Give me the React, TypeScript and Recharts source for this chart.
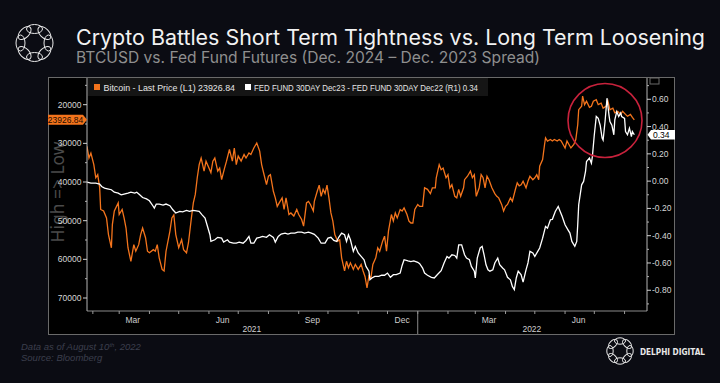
import React from "react";
import { LineChart, Line, XAxis, YAxis } from "recharts";

// days counted from 1 Jan 2021
const btcDays = [
  26, 28, 30, 33, 35, 37, 39, 40, 43, 46, 48, 51, 52, 54, 58, 59, 62, 64, 66, 68, 71, 74, 76, 79, 81, 83, 86, 88, 90, 94,
  96, 98, 100, 103, 105, 107, 111, 113, 115, 117, 120, 123, 125, 128, 130, 133, 135, 137, 139, 141, 143, 146, 148, 151,
  153, 155, 157, 160, 162, 164, 167, 169, 172, 175, 177, 179, 181, 184, 187, 189, 192, 194, 197, 200, 203, 205, 207, 210,
  212, 214, 217, 219, 221, 223, 226, 228, 230, 233, 235, 238, 241, 243, 246, 248, 251, 253, 255, 258, 259, 262, 264, 266,
  268, 270, 272, 274, 276, 278, 280, 283, 285, 287, 290, 292, 294, 296, 299, 301, 304, 307, 309, 311, 313, 315, 317, 319,
  322, 324, 326, 329, 331, 333, 335, 338, 340, 342, 344, 347, 349, 351, 354, 356, 358, 360, 362, 365, 367, 370, 372, 375,
  378, 380, 383, 384, 387, 389, 391, 394, 396, 398, 400, 403, 405, 407, 409, 412, 413, 416, 419, 421, 423, 425, 428, 430,
  432, 434, 436, 438, 441, 444, 446, 448, 451, 453, 455, 457, 460, 462, 465, 467, 469, 471, 473, 476, 478, 480, 483, 485,
  487, 489, 490, 493, 495, 496, 498, 501, 503, 505, 508, 510, 512, 514, 516, 518, 520, 522, 525, 527, 529, 530, 533, 534,
  536, 538, 541, 543, 545, 548, 550, 553, 555, 558, 560, 562, 565, 567, 570, 573, 575, 578, 580, 583, 585, 587,
];
const btcPrice = [
  30750, 33800, 32500, 35500, 38900, 38100, 41500, 47100, 47500, 49300, 53600, 57000, 51000, 47500, 45400, 48400, 47100,
  49300, 51900, 57000, 60500, 56200, 57900, 56200, 53600, 51900, 54400, 57900, 58300, 57500, 57900, 56200, 59600, 62600,
  63000, 57900, 52700, 49300, 48500, 53600, 57000, 54900, 57500, 58300, 55700, 49300, 45400, 43200, 38900, 35500, 33800,
  37200, 34600, 36400, 37600, 34600, 33800, 37200, 36400, 39400, 36400, 34600, 31600, 34600, 31200, 35500, 33300, 34600,
  32900, 33800, 32500, 32900, 31200, 29900, 32000, 35500, 37600, 40700, 38500, 38100, 42400, 44100, 46300, 45400, 44100,
  47100, 44100, 48400, 48000, 48800, 47100, 48400, 49700, 51400, 45400, 45000, 45800, 47500, 45000, 42400, 40800, 43700,
  41900, 43000, 40800, 44100, 48000, 50100, 53600, 55300, 54900, 59600, 63000, 60500, 62200, 60900, 62600, 61300, 62600,
  61300, 63000, 64500, 67400, 64300, 64800, 61300, 59600, 57000, 57900, 55300, 54000, 57900, 52700, 48400, 50100, 48000,
  49300, 47100, 47500, 46700, 48400, 50100, 50600, 50600, 47100, 45800, 46300, 46300, 41500, 41900, 43000, 41500, 41500,
  38900, 35500, 36800, 36400, 38900, 38100, 41500, 40700, 43700, 44100, 41900, 43700, 41500, 39400, 38500, 37200, 38900,
  38100, 43700, 41500, 38100, 38900, 41500, 38500, 39400, 41500, 43000, 43700, 44100, 45800, 47500, 46300, 45800, 44100,
  45000, 42000, 40200, 41000, 40700, 39800, 41500, 39800, 38500, 39400, 38900, 38100, 39400, 35900, 34200, 30300, 28600,
  29400, 29000, 29400, 29000, 29400, 29000, 29400, 30300, 31200, 29400, 30300, 31200, 30300, 29000, 25200, 21300, 20400,
  17800, 20000, 19100, 20700, 20400, 19100, 18700, 20000, 19600, 20900, 20400, 19100, 21300, 20900, 22100, 21700, 22500,
  21700, 22500, 23000, 22500, 23300, 23926.84,
];

const fedDays = [
  26, 30, 35, 39, 41, 44, 47, 51, 54, 58, 61, 64, 68, 71, 75, 77, 80, 83, 87, 90, 94, 95, 97, 100, 104, 107, 111, 114, 117,
  121, 124, 128, 131, 135, 138, 141, 144, 147, 149, 152, 153, 157, 160, 164, 166, 170, 172, 176, 179, 182, 186, 189, 192,
  194, 197, 200, 203, 206, 210, 213, 217, 219, 222, 225, 229, 232, 235, 239, 242, 246, 249, 253, 256, 259, 263, 266, 270,
  273, 276, 279, 282, 284, 287, 290, 292, 294, 296, 299, 301, 304, 307, 310, 312, 315, 316, 318, 321, 325, 328, 331, 334,
  337, 340, 343, 347, 349, 351, 355, 358, 361, 365, 367, 370, 372, 375, 379, 382, 385, 389, 392, 395, 397, 400, 403, 405,
  407, 410, 413, 415, 418, 420, 423, 424, 426, 429, 431, 433, 435, 437, 439, 442, 444, 447, 449, 452, 454, 456, 457, 460,
  462, 464, 466, 468, 471, 473, 476, 478, 480, 483, 485, 488, 490, 493, 496, 498, 501, 503, 506, 509, 511, 513, 516, 519,
  521, 523, 526, 528, 529, 530, 533, 535, 537, 538, 541, 543, 544, 546, 548, 550, 552, 554, 555, 557, 559, 561, 562, 564,
  566, 567, 569, 571, 573, 574, 577, 578, 580, 582, 584, 585, 587,
];
const fedSpread = [
  -0.007, -0.015, -0.015, -0.022, -0.039, -0.051, -0.056, -0.063, -0.081, -0.088, -0.1, -0.095, -0.088, -0.081, -0.088,
  -0.081, -0.1, -0.12, -0.13, -0.144, -0.186, -0.198, -0.168, -0.168, -0.176, -0.168, -0.18, -0.21, -0.234, -0.222, -0.225,
  -0.215, -0.222, -0.215, -0.218, -0.222, -0.247, -0.27, -0.32, -0.393, -0.442, -0.43, -0.412, -0.418, -0.447, -0.43,
  -0.447, -0.455, -0.455, -0.447, -0.455, -0.435, -0.405, -0.455, -0.455, -0.418, -0.412, -0.405, -0.412, -0.393, -0.412,
  -0.447, -0.405, -0.388, -0.381, -0.388, -0.381, -0.381, -0.374, -0.374, -0.381, -0.374, -0.381, -0.39, -0.418, -0.455,
  -0.455, -0.418, -0.412, -0.435, -0.442, -0.412, -0.381, -0.393, -0.442, -0.393, -0.43, -0.515, -0.478, -0.527, -0.552,
  -0.576, -0.625, -0.66, -0.723, -0.71, -0.698, -0.698, -0.69, -0.69, -0.674, -0.705, -0.686, -0.686, -0.674, -0.618,
  -0.576, -0.585, -0.59, -0.585, -0.595, -0.605, -0.637, -0.674, -0.69, -0.705, -0.71, -0.686, -0.657, -0.6, -0.552, -0.564,
  -0.54, -0.545, -0.564, -0.467, -0.467, -0.54, -0.564, -0.576, -0.625, -0.66, -0.71, -0.564, -0.49, -0.478, -0.54, -0.613,
  -0.65, -0.66, -0.65, -0.6, -0.564, -0.613, -0.637, -0.65, -0.686, -0.705, -0.723, -0.772, -0.796, -0.71, -0.66, -0.686,
  -0.74, -0.65, -0.6, -0.515, -0.527, -0.552, -0.515, -0.49, -0.418, -0.332, -0.345, -0.283, -0.28, -0.222, -0.186, -0.222,
  -0.258, -0.32, -0.357, -0.381, -0.442, -0.478, -0.442, -0.32, -0.173, -0.027, -0.002, 0.071, 0.144, 0.17, 0.132, 0.18,
  0.34, 0.474, 0.46, 0.41, 0.315, 0.3, 0.437, 0.608, 0.486, 0.437, 0.41, 0.34, 0.45, 0.51, 0.474, 0.5, 0.474, 0.46, 0.364,
  0.34, 0.388, 0.327, 0.364, 0.34,
];

const monthStarts = [32, 59, 90, 120, 151, 181, 212, 243, 273, 304, 334, 365, 396, 424, 455, 485, 516, 546, 577];
const monthLabelDays = [73, 165, 257, 349, 438, 530];
const monthLabelText = ["Mar", "Jun", "Sep", "Dec", "Mar", "Jun"];
const yearLabelDays = [195, 482];
const yearLabelText = ["2021", "2022"];
const yearBreak = 365;

const btcTicks = [15000, 20000, 25000, 30000, 35000, 40000, 45000, 50000, 55000, 60000, 65000, 70000];
const fedTicks = [-0.9, -0.8, -0.7, -0.6, -0.5, -0.4, -0.3, -0.2, -0.1, 0, 0.1, 0.2, 0.3, 0.4, 0.5, 0.6, 0.7];
const lastBtc = 23926.84;
const lastFed = 0.34;

const ORANGE = "#f4741c";
const AXIS_FONT = "'Liberation Sans', Arial, sans-serif";

const rowMap = new Map<number, any>();
btcDays.forEach((d, i) => {
  const r = rowMap.get(d) || { day: d };
  r.btc = btcPrice[i];
  rowMap.set(d, r);
});
fedDays.forEach((d, i) => {
  const r = rowMap.get(d) || { day: d };
  r.fed = fedSpread[i];
  rowMap.set(d, r);
});
const data = Array.from(rowMap.values()).sort((a, b) => a.day - b.day);

function XTick(props: any) {
  const { x, y, payload } = props;
  const v = payload.value;
  const mi = monthLabelDays.indexOf(v);
  if (mi >= 0)
    return (
      <text x={x} y={y + 12} textAnchor="middle" fill="#cfcfcf" fontSize={8.5} fontFamily={AXIS_FONT}>
        {monthLabelText[mi]}
      </text>
    );
  const yi = yearLabelDays.indexOf(v);
  if (yi >= 0)
    return (
      <text x={x} y={y + 20.5} textAnchor="middle" fill="#cfcfcf" fontSize={8.5} fontFamily={AXIS_FONT}>
        {yearLabelText[yi]}
      </text>
    );
  return (
    <g>
      <line x1={x} x2={x} y1={y} y2={y + 3} stroke="#9a9a9a" />
      {v === yearBreak && <line x1={x} x2={x} y1={y} y2={y + 23} stroke="#8a8a8a" />}
    </g>
  );
}

function BtcTick(props: any) {
  const { x, y, payload } = props;
  const v = payload.value;
  if (v === lastBtc) {
    return (
      <g>
        <polygon
          points={`${x - 39},${y - 5} ${x - 4},${y - 5} ${x},${y} ${x - 4},${y + 5} ${x - 39},${y + 5}`}
          fill={ORANGE}
        />
        <text x={x - 21.5} y={y + 3} textAnchor="middle" fill="#1d0d00" fontSize={8.5} fontFamily={AXIS_FONT}>
          23926.84
        </text>
      </g>
    );
  }
  if (v % 10000 === 0) {
    return (
      <g>
        <line x1={x - 4} x2={x} y1={y} y2={y} stroke="#d0d0d0" />
        <text x={x - 5.5} y={y + 3} textAnchor="end" fill="#d6d6d6" fontSize={8.5} fontFamily={AXIS_FONT}>
          {v}
        </text>
      </g>
    );
  }
  return <line x1={x - 2} x2={x} y1={y} y2={y} stroke="#b0b0b0" />;
}

function FedTick(props: any) {
  const { x, y, payload } = props;
  const v = payload.value;
  if (v === lastFed) {
    return (
      <g>
        <polygon
          points={`${x + 0.5},${y} ${x + 4},${y - 4.8} ${x + 28},${y - 4.8} ${x + 28},${y + 4.8} ${x + 4},${y + 4.8}`}
          fill="#ffffff"
        />
        <text x={x + 6} y={y + 3} fill="#000" fontSize={8.5} fontFamily={AXIS_FONT}>
          0.34
        </text>
      </g>
    );
  }
  const tenth = Math.round(v * 10);
  if (tenth % 2 === 0) {
    return (
      <g>
        <line x1={x} x2={x + 4} y1={y} y2={y} stroke="#d0d0d0" />
        <text x={x + 5} y={y + 3} fill="#d6d6d6" fontSize={8.5} fontFamily={AXIS_FONT}>
          {(tenth / 10).toFixed(2)}
        </text>
      </g>
    );
  }
  return <line x1={x} x2={x + 2} y1={y} y2={y} stroke="#b0b0b0" />;
}

function RingLogo({ cx, cy, r, rx, ry, sw }: { cx: number; cy: number; r: number; rx: number; ry: number; sw: number }) {
  const items = [0, 1, 2, 3, 4, 5, 6, 7];
  return (
    <g fill="none" stroke="#e8e8e8" strokeWidth={sw}>
      {items.map((i) => {
        const a = (i * 45 * Math.PI) / 180;
        const ex = cx + r * Math.cos(a);
        const ey = cy + r * Math.sin(a);
        return <ellipse key={i} cx={ex} cy={ey} rx={rx} ry={ry} transform={`rotate(${i * 45 + 90} ${ex} ${ey})`} />;
      })}
    </g>
  );
}

export default function App() {
  return (
    <div style={{ position: "absolute", left: 0, top: 0, width: 720, height: 383, background: "#0b0c13", overflow: "hidden" }}>
      <svg width={720} height={383} style={{ position: "absolute", left: 0, top: 0 }}>
        <RingLogo cx={34.5} cy={43} r={14} rx={8} ry={4.5} sw={1} />
        <text x={76} y={45} fill="#f2f2f2" fontSize={21} fontFamily="Inter, 'Noto Sans', sans-serif" textLength={629} lengthAdjust="spacingAndGlyphs">
          Crypto Battles Short Term Tightness vs. Long Term Loosening
        </text>
        <text x={76} y={63} fill="#8f8f8f" fontSize={15.5} fontFamily="Inter, 'Noto Sans', sans-serif" textLength={464} lengthAdjust="spacingAndGlyphs">
          BTCUSD vs. Fed Fund Futures (Dec. 2024 – Dec. 2023 Spread)
        </text>
        <rect x={48.5} y={77.5} width={626} height={257} fill="#000" stroke="#6a6a6a" />
        <text
          x={59}
          y={192}
          transform="rotate(-90 59 192)"
          textAnchor="middle"
          dominantBaseline="middle"
          fill="#4a4a4a"
          fontSize={18}
          fontFamily="'Noto Sans', sans-serif"
          textLength={101}
          lengthAdjust="spacingAndGlyphs"
        >
          {"High => Low"}
        </text>
        <text x={21} y={350} fill="#3c3f4d" fontSize={9.5} fontStyle="italic" fontFamily="'Liberation Sans', Arial, sans-serif">
          Data as of August 10<tspan fontSize={6} dy={-3}>th</tspan>
          <tspan dy={3}>, 2022</tspan>
        </text>
        <text x={21} y={361} fill="#3c3f4d" fontSize={9.5} fontStyle="italic" fontFamily="'Liberation Sans', Arial, sans-serif">
          Source: Bloomberg
        </text>
        <RingLogo cx={620} cy={351} r={10} rx={5.5} ry={3.2} sw={1} />
        <text x={640} y={355} fill="#e8e8e8" fontSize={8.5} fontWeight={700} fontFamily="'DejaVu Sans', sans-serif" textLength={65} lengthAdjust="spacingAndGlyphs">
          DELPHI DIGITAL
        </text>
      </svg>

      <div style={{ position: "absolute", left: 48, top: 77 }}>
        <LineChart width={627} height={258} data={data} margin={{ top: 1, right: 0, bottom: 0, left: 0 }}>
          <XAxis
            dataKey="day"
            type="number"
            domain={[26, 600]}
            allowDataOverflow
            ticks={[...monthStarts, ...monthLabelDays, ...yearLabelDays]}
            interval={0}
            tick={<XTick />}
            tickLine={false}
            tickSize={0}
            tickMargin={0}
            height={24}
            axisLine={{ stroke: "#8a8a8a" }}
          />
          <YAxis
            yAxisId="btc"
            orientation="left"
            reversed
            domain={[13100, 73360]}
            allowDataOverflow
            ticks={[...btcTicks, lastBtc]}
            interval={0}
            tick={<BtcTick />}
            tickLine={false}
            tickSize={0}
            tickMargin={0}
            width={39}
            axisLine={{ stroke: "#b5b5b5" }}
          />
          <YAxis
            yAxisId="fed"
            orientation="right"
            domain={[-0.952, 0.756]}
            allowDataOverflow
            ticks={[...fedTicks, lastFed]}
            interval={0}
            tick={<FedTick />}
            tickLine={false}
            tickSize={0}
            tickMargin={0}
            width={28}
            axisLine={{ stroke: "#b5b5b5" }}
          />
          <Line yAxisId="btc" dataKey="btc" stroke={ORANGE} strokeWidth={1.3} dot={false} connectNulls isAnimationActive={false} />
          <Line yAxisId="fed" dataKey="fed" stroke="#ffffff" strokeWidth={1.3} dot={false} connectNulls isAnimationActive={false} />
        </LineChart>
      </div>

      <svg width={720} height={383} style={{ position: "absolute", left: 0, top: 0, pointerEvents: "none" }}>
        <rect x={88} y={78} width={400} height={18} fill="#151515" />
        <rect x={94} y={84} width={6} height={6} fill={ORANGE} />
        <text x={103.5} y={90.5} fill="#e6e6e6" fontSize={9.5} fontFamily={AXIS_FONT} textLength={131.5} lengthAdjust="spacingAndGlyphs">
          Bitcoin - Last Price (L1) 23926.84
        </text>
        <rect x={245} y={84} width={6} height={6} fill="#ffffff" />
        <text x={254} y={90.5} fill="#e6e6e6" fontSize={9.5} fontFamily={AXIS_FONT} textLength={224} lengthAdjust="spacingAndGlyphs">
          FED FUND 30DAY Dec23 - FED FUND 30DAY Dec22 (R1) 0.34
        </text>
        <rect x={650} y={78} width={9} height={6} fill="none" stroke="#6a6a6a" />
        <circle cx={605} cy={120.5} r={37} fill="none" stroke="#c8223c" strokeWidth={1.6} />
      </svg>
    </div>
  );
}
